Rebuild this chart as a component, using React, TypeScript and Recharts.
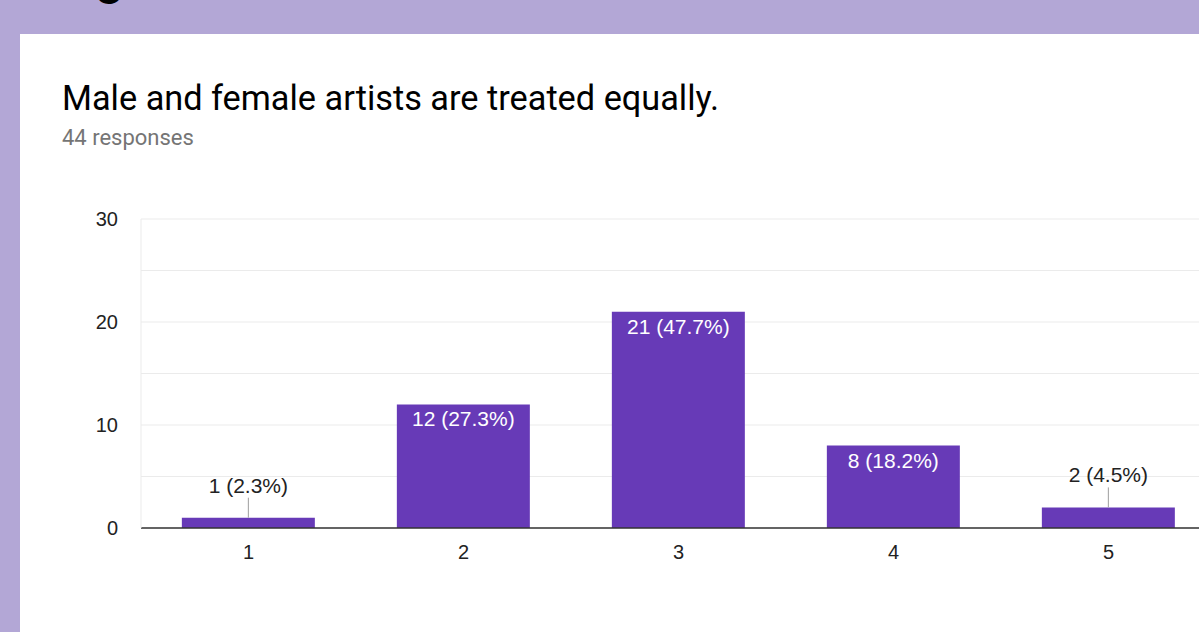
import { BarChart, Bar, XAxis, YAxis, CartesianGrid, LabelList } from 'recharts';

const categories = ['1', '2', '3', '4', '5'];
const counts = [1, 12, 21, 8, 2];
const percents = [2.3, 27.3, 47.7, 18.2, 4.5];
const yTicks = [0, 5, 10, 15, 20, 25, 30];

const data = categories.map((c, i) => ({ name: c, value: counts[i] }));

const PURPLE = '#673ab7';
const CHART_FONT = '"Liberation Sans", Arial, sans-serif';

const BarLabel = (props: any) => {
  const { x, y, width, height, index } = props;
  const text = `${counts[index]} (${percents[index]}%)`;
  const cx = x + width / 2;
  // tall bars get the label inside, short ones get a leader line
  if (height > 40) {
    return (
      <text x={cx} y={y + 22} fill="#fff" textAnchor="middle" fontSize={21} fontFamily={CHART_FONT}>
        {text}
      </text>
    );
  }
  return (
    <g>
      <line x1={cx} x2={cx} y1={y} y2={y - 20} stroke="#9e9e9e" strokeWidth={1} />
      <text x={cx} y={y - 25} fill="#222" textAnchor="middle" fontSize={21} fontFamily={CHART_FONT}>
        {text}
      </text>
    </g>
  );
};

export default function App() {
  return (
    <div
      style={{
        position: 'fixed',
        top: 0,
        left: 0,
        width: 1199,
        height: 632,
        background: '#b3a7d6',
        overflow: 'hidden',
      }}
    >
      {/* cut-off heading from the page above */}
      <div
        style={{
          position: 'absolute',
          left: 96,
          top: -46,
          fontFamily: 'Roboto, sans-serif',
          fontWeight: 700,
          fontSize: 48,
          lineHeight: '48px',
          color: '#000',
        }}
      >
        g
      </div>

      {/* white card */}
      <div
        style={{
          position: 'absolute',
          left: 20,
          top: 34,
          width: 1300,
          height: 700,
          background: '#fff',
        }}
      />

      <div
        style={{
          position: 'absolute',
          left: 62,
          top: 78,
          fontFamily: 'Roboto, sans-serif',
          fontSize: 34.3,
          lineHeight: '40px',
          color: '#000',
          whiteSpace: 'nowrap',
        }}
      >
        Male and female artists are treated equally.
      </div>
      <div
        style={{
          position: 'absolute',
          left: 62,
          top: 124,
          fontFamily: 'Roboto, sans-serif',
          fontSize: 22,
          lineHeight: '28px',
          color: '#757575',
        }}
      >
        44 responses
      </div>

      <div style={{ position: 'absolute', left: 0, top: 0 }}>
        <BarChart
          width={1260}
          height={632}
          data={data}
          margin={{ top: 219, right: 44, bottom: 74, left: 0 }}
          barCategoryGap="19%"
        >
          <CartesianGrid horizontal vertical={false} stroke="#ebebeb" />
          <XAxis
            dataKey="name"
            height={30}
            axisLine={{ stroke: '#333', strokeWidth: 1.5 }}
            tickLine={false}
            tickMargin={11}
            tick={{ fill: '#222', fontSize: 20, fontFamily: CHART_FONT }}
          />
          <YAxis
            width={141}
            domain={[0, 30]}
            ticks={yTicks}
            interval={0}
            axisLine={{ stroke: '#ebebeb' }}
            tickLine={false}
            tickMargin={17}
            tickFormatter={(v: number) => (v % 10 === 0 ? String(v) : '')}
            tick={{ fill: '#222', fontSize: 20, fontFamily: CHART_FONT }}
          />
          <Bar dataKey="value" fill={PURPLE} isAnimationActive={false}>
            <LabelList dataKey="value" content={BarLabel} />
          </Bar>
        </BarChart>
      </div>
    </div>
  );
}
